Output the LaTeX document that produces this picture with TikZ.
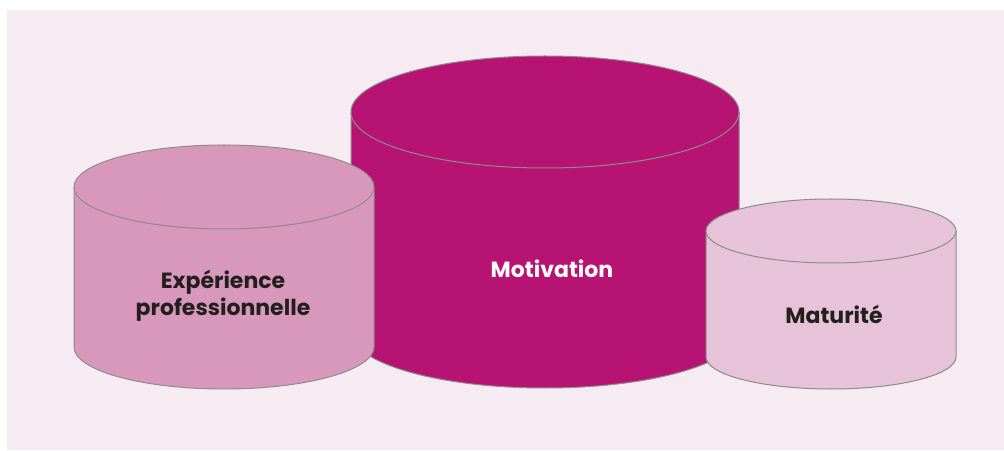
\documentclass[tikz,border=0pt]{standalone}
\usepackage{fontspec}
\setmainfont{Poppins}
\definecolor{bgpink}{HTML}{F6EAF3}
\definecolor{magentaC}{HTML}{B71373}
\definecolor{roseC}{HTML}{D898BC}
\definecolor{paleC}{HTML}{E7C3DA}
\definecolor{edgeC}{HTML}{8C8C8C}
\definecolor{txtC}{HTML}{231F20}
\tikzset{
  cylbody/.style={draw=edgeC, line width=1pt, line join=round},
  lbl/.style={font=\bfseries\fontsize{22}{27}\selectfont, text=txtC, align=center, inner sep=0pt}
}
\newcommand{\mycyl}[6]{%
  % #1 cx, #2 rx, #3 top cy, #4 bottom cy, #5 ry, #6 colour
  \path[cylbody, fill=#6] (#1-#2,#3) -- (#1-#2,#4)
    arc[start angle=180, end angle=360, x radius=#2, y radius=#5] -- (#1+#2,#3);
  \fill[#6] (#1-#2,#3) rectangle (#1+#2,#3-1);
  \path[cylbody, fill=#6] (#1,#3) ellipse [x radius=#2, y radius=#5];
}
\begin{document}
\begin{tikzpicture}[x=1pt,y=1pt]
\useasboundingbox (0,0) rectangle (1004,450);
\fill[white] (0,0) rectangle (1004,450);
\fill[bgpink] (7,0) rectangle (1004,440);
% middle cylinder (behind)
\mycyl{545}{194}{338}{118}{56}{magentaC}
% left cylinder
\mycyl{224}{150}{263}{103}{42}{roseC}
% right cylinder
\mycyl{831}{125}{219}{93}{32}{paleC}
\node[lbl, text=white, anchor=base] (motiv) at (552,172) {Motivation};
\node[lbl, anchor=base] (matur) at (834,126) {Maturité};
\node[lbl, anchor=center] (exper) at (223,154) {Expérience\\professionnelle};
\end{tikzpicture}
\end{document}
